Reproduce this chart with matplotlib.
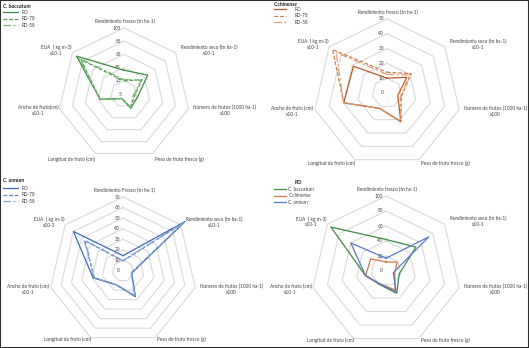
import numpy as np
import matplotlib
matplotlib.use("Agg")
import matplotlib.pyplot as plt
from matplotlib.patches import Rectangle

plt.rcParams['font.family'] = ['Lato', 'DejaVu Sans']

W, H = 529, 348

# ---------------- data ----------------
cat_bac = ['Rendimiento fresco (tn ha-1)', 'Rendimiento seco (tn ha-1)\nx10-1',
           'Número de frutos (1000 ha-1)\nx100', 'Peso de fruto fresco (g)',
           'Longitud de fruto (cm)', 'Ancho de fruto(cm)\nx10-1', 'EUA  ( kg m-3)\nx10-1']
cat_chi = ['Rendimiento fresco (tn ha-1)', 'Rendimiento seco (tn ha-1)\nx10-1',
           'Número de frutos (1000 ha-1)\nx100', 'Peso de fruto fresco (g)',
           'Longitud de fruto (cm)', 'Ancho de fruto (cm)\nx10-1', 'EUA  ( kg m-3)\nx10-1']
cat_ann = ['Rendimiento Fresco (tn ha-1)', 'Rendimiento seco (tn ha-1)\nx10-1',
           'Número de frutos (1000 ha-1)\nx100', 'Peso de fruto fresco (g)',
           'Longitud de fruto (cm)', 'Ancho de fruto (cm)\nx10-1', 'EUA  ( kg m-3)\nx10-3']
cat_ro = cat_chi

ticks_bac = [5, 25, 45, 65, 85, 105]
ticks_chi = [0, 10, 20, 30, 40, 50]
ticks_ann = [0, 10, 20, 30, 40, 50, 60, 70]
ticks_ro = [0, 20, 40, 60, 80, 100]

bac_ro   = [41, 51, 26, 29, 12.5, 42, 97]
bac_rd78 = [25, 40, 21, 28, 12.5, 42, 88]
bac_rd58 = [27, 38, 19, 28, 12.5, 42, 91]

chi_ro   = [10, 17, 7.5, 21.5, 11.5, 30, 29]
chi_rd78 = [14, 21, 10, 21.5, 11.5, 30, 47]
chi_rd58 = [12.5, 19.5, 9.5, 21, 11.5, 30, 44]

ann_ro   = [14.5, 75, 8.5, 27, 14.5, 29, 60]
ann_rd78 = [9.5, 74, 8, 26, 14.5, 28, 46]
ann_rd58 = [10, 74, 8, 26, 14.5, 28, 47]

ro_bac = [42, 51, 18, 33, 20, 28, 94]
ro_chi = [12, 19, 12, 28, 19, 28, 26]
ro_ann = [17, 73, 10, 31, 19, 28, 60]

series_names = ['RO', 'RD-78', 'RD-58']
species_names = ['C. baccatum', 'C.chinense', 'C. annum']

fig = plt.figure(figsize=(W / 100, H / 100), dpi=100)
fig.patch.set_facecolor('white')

TXT = '#404040'
GRID = '#d9d9d9'
FS = 3.45

# label placement per axis: (ha, va, dx, dy) in pixels from the outer vertex
LAB = [('center', 'center', 1, 7), ('left', 'center', 5.5, 2.5), ('left', 'center', 5, -2),
       ('left', 'center', 2, None), ('right', 'center', 0, None),
       ('right', 'center', -1.5, -2), ('right', 'center', -1, 2.5)]


def radar(cx, cy, R, cats, ticks, series, colors, styles, labels, title, title_xy,
          leg_xy, bot_dy, hl=3.1, htp=0.7, title_style='italic'):
    ax = fig.add_axes([(cx - R) / W, 1 - (cy + R) / H, 2 * R / W, 2 * R / H],
                      projection='polar')
    ax.set_theta_zero_location('N')
    ax.set_theta_direction(-1)
    ax.set_ylim(ticks[0], ticks[-1])
    ax.grid(False)
    ax.set_xticks([])
    ax.set_yticks([])
    ax.spines['polar'].set_visible(False)
    ax.patch.set_alpha(0)
    n = len(cats)
    ang = np.linspace(0, 2 * np.pi, n, endpoint=False)
    angc = np.append(ang, ang[0])
    for t in ticks[1:]:
        ax.plot(angc, [t] * (n + 1), color=GRID, lw=0.8, zorder=1, clip_on=False)
    for t in ticks:
        ax.annotate(str(t), xy=(0, t), xytext=(-3, 0), textcoords='offset pixels',
                    ha='right', va='center', fontsize=FS, color=TXT)
    handles = []
    for vals, c, ls, lab in zip(series, colors, styles, labels):
        v = list(vals) + [vals[0]]
        h, = ax.plot(angc, v, color=c, lw=0.9, ls=ls, label=lab, zorder=3, clip_on=False)
        handles.append(h)
    for i, (a, lab) in enumerate(zip(ang, cats)):
        ha, va, dx, dy = LAB[i]
        if dy is None:
            dy = -bot_dy
        ax.annotate(lab, xy=(a, ticks[-1]), xytext=(dx, dy), textcoords='offset pixels',
                    ha=ha, va=va, fontsize=FS, color=TXT, multialignment='center',
                    annotation_clip=False)
    fig.text(title_xy[0] / W, 1 - title_xy[1] / H, title, fontsize=3.8, fontweight='bold',
             style=title_style, color='#202020', ha='left', va='center')
    leg = fig.legend(handles=handles, loc='upper left',
                     bbox_to_anchor=(leg_xy[0] / W, 1 - leg_xy[1] / H),
                     frameon=False, fontsize=FS, handlelength=hl, handletextpad=htp,
                     labelspacing=0.3, borderaxespad=0, borderpad=0)
    for t in leg.get_texts():
        t.set_color(TXT)
    return ax


greens = ['#3a8a3f', '#4f9e4f', '#78b878']
oranges = ['#b85a2a', '#cc7a45', '#dd9c70']
blues = ['#3d69b0', '#5a82c4', '#86a4d6']
styles3 = ['-', (0, (3, 1.5)), (0, (6, 2, 1.5, 2))]

radar(124, 94, 66, cat_bac, ticks_bac, [bac_ro, bac_rd78, bac_rd58], greens, styles3,
      series_names, 'C. baccatum', (3, 6), (3, 10), bot_dy=5.5)
radar(387, 93, 74, cat_chi, ticks_chi, [chi_ro, chi_rd78, chi_rd58], oranges, styles3,
      series_names, 'C.chinense', (274, 4), (274, 7), bot_dy=3.5, hl=2.6, htp=1.8)
radar(123, 271, 74, cat_ann, ticks_ann, [ann_ro, ann_rd78, ann_rd58], blues, styles3,
      series_names, 'C. annum', (3, 180), (3, 186), bot_dy=2)
radar(386, 271, 75, cat_ro, ticks_ro, [ro_bac, ro_chi, ro_ann],
      ['#3a8a3f', '#cc7a45', '#5a78c8'], ['-', '-', '-'],
      species_names, 'RO', (295, 183), (274, 187), bot_dy=1.5, hl=2.6, htp=0.4,
      title_style='normal')

fig.patches.append(Rectangle((0, 0), 1, 1, transform=fig.transFigure, fill=False,
                             edgecolor='#303030', lw=1.5))

fig.savefig('out.png', dpi=100)
